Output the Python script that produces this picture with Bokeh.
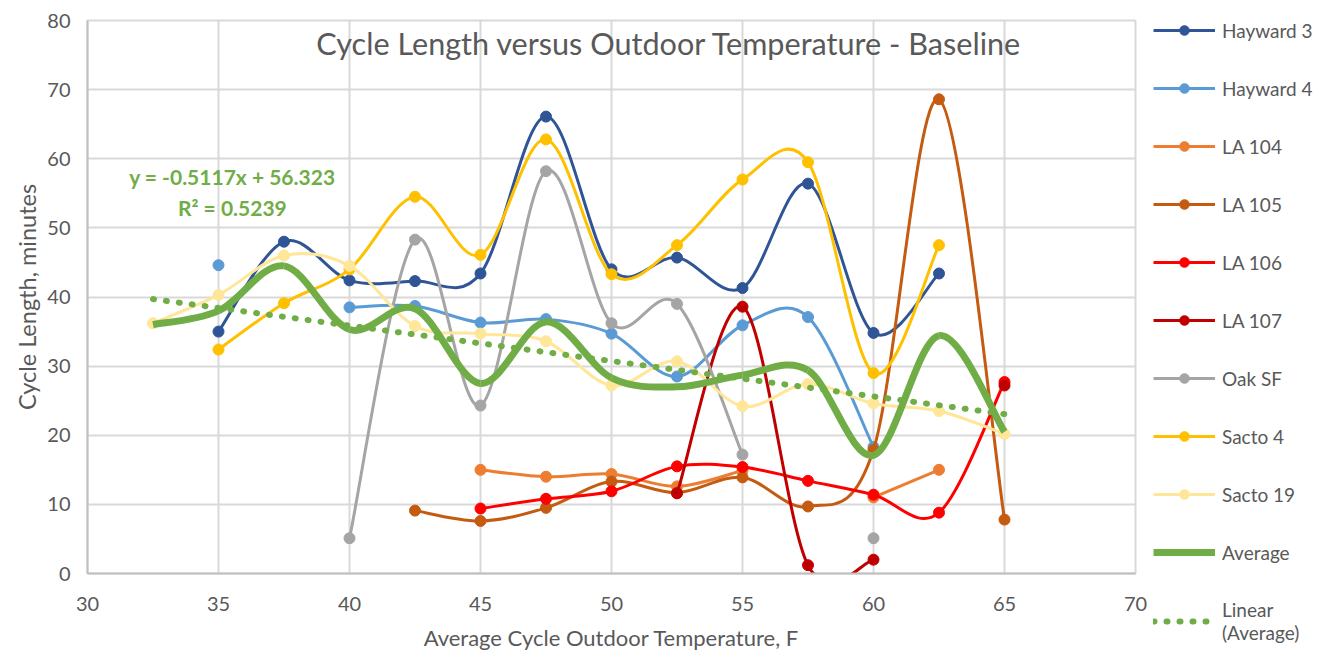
import numpy as np
from bokeh.plotting import figure
from bokeh.layouts import row
from bokeh.models import Range1d, Legend, LegendItem, Label, FixedTicker
from bokeh.embed import file_html
from bokeh.resources import INLINE
from bokeh.core.properties import value

# ---------------- data ----------------
temps = [32.5, 35, 37.5, 40, 42.5, 45, 47.5, 50, 52.5, 55, 57.5, 60, 62.5, 65]
N = None
hayward3 = [N, 35.0, 48.0, 42.4, 42.3, 43.4, 66.1, 44.0, 45.7, 41.3, 56.4, 34.8, 43.4, N]
hayward4 = [N, 44.6, N, 38.5, 38.7, 36.3, 36.8, 34.7, 28.5, 35.9, 37.1, 18.3, N, N]
la104 = [N, N, N, N, N, 15.0, 14.0, 14.4, 12.6, 14.9, N, 11.0, 15.0, N]
la105 = [N, N, N, N, 9.1, 7.6, 9.5, 13.3, 11.7, 13.9, 9.7, 17.9, 68.6, 7.8]
la106 = [N, N, N, N, N, 9.4, 10.8, 11.9, 15.5, 15.4, 13.4, 11.4, 8.8, 27.7]
la107 = [N, N, N, N, N, N, N, N, 11.6, 38.6, 1.2, 2.0, N, 27.2]
oaksf = [N, N, N, 5.1, 48.3, 24.3, 58.2, 36.2, 39.0, 17.2, N, 5.1, N, N]
sacto4 = [N, 32.4, 39.1, 44.0, 54.5, 46.1, 62.8, 43.3, 47.5, 57.0, 59.5, 29.0, 47.5, N]
sacto19 = [36.2, 40.3, 46.0, 44.5, 35.8, 34.7, 33.6, 27.2, 30.7, 24.2, 27.4, 24.6, 23.5, 20.2]
average = [36.0, 38.0, 44.5, 35.3, 38.3, 27.5, 36.4, 28.3, 27.0, 28.7, 29.4, 17.1, 34.4, 20.5]

series_names = ["Hayward 3", "Hayward 4", "LA 104", "LA 105", "LA 106", "LA 107",
                "Oak SF", "Sacto 4", "Sacto 19"]
series_values = [hayward3, hayward4, la104, la105, la106, la107, oaksf, sacto4, sacto19]
series_colors = ["#2F5597", "#5B9BD5", "#ED7D31", "#C55A11", "#FF0000", "#C00000",
                 "#A5A5A5", "#FFC000", "#FFE699"]
avg_color = "#70AD47"

trend_slope = -0.5117
trend_intercept = 56.323
eq_text = "y = -0.5117x + 56.323"
r2_text = "R² = 0.5239"

title_text = "Cycle Length versus Outdoor Temperature - Baseline"
x_label = "Average Cycle Outdoor Temperature, F"
y_label = "Cycle Length, minutes"
x_ticks = [30, 35, 40, 45, 50, 55, 60, 65, 70]
y_ticks = [0, 10, 20, 30, 40, 50, 60, 70, 80]

FONT = "Lato"
TXT = "#595959"


def runs(xs, ys):
    out, cur = [], []
    for x, y in zip(xs, ys):
        if y is None:
            if cur:
                out.append(cur)
            cur = []
        else:
            cur.append((x, y))
    if cur:
        out.append(cur)
    return out


def bezier_parts(pts):
    """Catmull-Rom style smoothing (Excel-like) as cubic bezier segments."""
    x0, y0, x1, y1, cx0, cy0, cx1, cy1 = ([] for _ in range(8))
    n = len(pts)
    for i in range(n - 1):
        p0 = pts[i - 1] if i > 0 else pts[i]
        p1 = pts[i]
        p2 = pts[i + 1]
        p3 = pts[i + 2] if i + 2 < n else pts[i + 1]
        x0.append(p1[0]); y0.append(p1[1])
        x1.append(p2[0]); y1.append(p2[1])
        cx0.append(p1[0] + (p2[0] - p0[0]) / 6.0)
        cy0.append(p1[1] + (p2[1] - p0[1]) / 6.0)
        cx1.append(p2[0] - (p3[0] - p1[0]) / 6.0)
        cy1.append(p2[1] - (p3[1] - p1[1]) / 6.0)
    return dict(x0=x0, y0=y0, x1=x1, y1=y1, cx0=cx0, cy0=cy0, cx1=cx1, cy1=cy1)


def merged_parts(xs, ys):
    agg = dict(x0=[], y0=[], x1=[], y1=[], cx0=[], cy0=[], cx1=[], cy1=[])
    for r in runs(xs, ys):
        if len(r) > 1:
            b = bezier_parts(r)
            for k in agg:
                agg[k] += b[k]
    return agg


def present(xs, ys):
    return ([x for x, v in zip(xs, ys) if v is not None], [v for v in ys if v is not None])


# ---------------- main chart ----------------
p = figure(width=1147, height=653, output_backend="svg", toolbar_location=None,
           x_range=Range1d(30, 70), y_range=Range1d(0, 80),
           min_border_left=87, min_border_right=12, min_border_top=20, min_border_bottom=80)
p.background_fill_color = "white"
p.border_fill_color = "white"
p.outline_line_color = "#D9D9D9"
p.outline_line_width = 2

p.xaxis.ticker = FixedTicker(ticks=x_ticks)
p.yaxis.ticker = FixedTicker(ticks=y_ticks)
for ax in (p.xaxis[0], p.yaxis[0]):
    ax.major_tick_out = 0
    ax.major_tick_in = 0
    ax.minor_tick_out = 0
    ax.minor_tick_in = 0
    ax.axis_line_color = "#BFBFBF"
    ax.axis_line_width = 2
    ax.major_label_text_font = FONT
    ax.major_label_text_font_size = "20px"
    ax.major_label_text_color = TXT
    ax.axis_label_text_font = FONT
    ax.axis_label_text_color = TXT
    ax.axis_label_text_font_style = "normal"
p.xaxis.axis_label = x_label
p.yaxis.axis_label = y_label
p.xaxis.axis_label_text_font_size = "22px"
p.yaxis.axis_label_text_font_size = "23.5px"
p.xaxis.major_label_standoff = 23
p.xaxis.axis_label_standoff = 10
p.yaxis.major_label_standoff = 17
p.yaxis.axis_label_standoff = 3

p.xgrid.ticker = FixedTicker(ticks=x_ticks)
p.ygrid.ticker = FixedTicker(ticks=y_ticks)
p.grid.grid_line_color = "#D9D9D9"
p.grid.grid_line_width = 2

for name, vals, col in zip(series_names, series_values, series_colors):
    parts = merged_parts(temps, vals)
    p.bezier(x0="x0", y0="y0", x1="x1", y1="y1", cx0="cx0", cy0="cy0", cx1="cx1", cy1="cy1",
             source=parts, line_color=col, line_width=3)
    xs, ys = present(temps, vals)
    p.scatter(xs, ys, marker="circle", size=11, fill_color=col, line_color=col)

avg_parts = merged_parts(temps, average)
p.bezier(x0="x0", y0="y0", x1="x1", y1="y1", cx0="cx0", cy0="cy0", cx1="cx1", cy1="cy1",
         source=avg_parts, line_color=avg_color, line_width=7)

tx = [temps[0], temps[-1]]
ty = [trend_slope * t + trend_intercept for t in tx]
p.line(tx, ty, line_color=avg_color, line_width=6, line_dash="1 12", line_cap="round")

p.add_layout(Label(x=52.21, y=76.67, text=title_text, text_font=FONT,
                   text_font_size="30.6px", text_color=TXT, text_align="center",
                   text_baseline="alphabetic"))
p.add_layout(Label(x=35.53, y=57.43, text=eq_text, text_font=FONT, text_font_size="21px",
                   text_font_style="bold", text_color=avg_color, text_align="center",
                   text_baseline="alphabetic"))
p.add_layout(Label(x=35.53, y=52.95, text=r2_text, text_font=FONT, text_font_size="21px",
                   text_font_style="bold", text_color=avg_color, text_align="center",
                   text_baseline="alphabetic"))

# ---------------- legend panel ----------------
lf = figure(width=172, height=653, output_backend="svg", toolbar_location=None,
            x_range=Range1d(0, 1), y_range=Range1d(0, 1),
            x_axis_location=None, y_axis_location=None,
            min_border_left=0, min_border_right=0, min_border_top=20, min_border_bottom=80)
lf.outline_line_color = None
lf.xgrid.visible = False
lf.ygrid.visible = False
lf.background_fill_color = "white"
lf.border_fill_color = "white"

items = []
for name, vals, col in zip(series_names, series_values, series_colors):
    xs, ys = present(temps, vals)
    r_line = lf.line(xs, ys, line_color=col, line_width=3)
    r_mark = lf.scatter(xs, ys, marker="circle", size=11, fill_color=col, line_color=col)
    items.append(LegendItem(label=name, renderers=[r_line, r_mark]))
r_avg = lf.line(temps, average, line_color=avg_color, line_width=7)
items.append(LegendItem(label="Average", renderers=[r_avg]))
r_tr = lf.line(tx, ty, line_color=avg_color, line_width=6, line_dash="1 12", line_cap="round")
items.append(LegendItem(label="Linear\n(Average)", renderers=[r_tr]))

legend = Legend(items=items, location=(6, -71), orientation="vertical",
                glyph_width=62, glyph_height=24, label_height=24, spacing=34,
                label_standoff=7, padding=0, margin=0,
                border_line_color=None, background_fill_alpha=0,
                label_text_font=FONT, label_text_font_size="19px", label_text_color=TXT)
lf.add_layout(legend, "left")

layout = row(p, lf, spacing=0)
open("out.html", "w").write(file_html(layout, INLINE))
